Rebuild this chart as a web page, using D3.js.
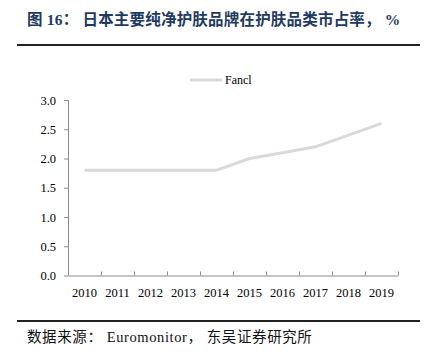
<!DOCTYPE html>
<html><head><meta charset="utf-8">
<script src="https://cdn.jsdelivr.net/npm/d3@7"></script>
<style>body{margin:0;background:#fff;}svg{display:block;}</style>
</head><body>
<svg id="c" width="429" height="356"></svg>
<script>
const years = ["2010","2011","2012","2013","2014","2015","2016","2017","2018","2019"];
const fancl = [1.8,1.8,1.8,1.8,1.8,2.0,2.1,2.2,2.4,2.6];
const yTicks = [0,0.5,1.0,1.5,2.0,2.5,3.0];
const seriesName = "Fancl";
const titleText = "图 16： 日本主要纯净护肤品牌在护肤品类市占率， %";
const sourceText = "数据来源： Euromonitor， 东吴证券研究所";

const svg = d3.select("#c");
const serif = "'Liberation Serif','Times New Roman','Noto Sans CJK SC',serif";

svg.append("text").attr("x",27).attr("y",25)
  .attr("font-family", serif).attr("font-weight","bold").attr("font-size",15.5)
  .attr("letter-spacing",0.2)
  .attr("fill","#1f3a60").text(titleText);
svg.append("line").attr("x1",17).attr("x2",420).attr("y1",45).attr("y2",45)
  .attr("stroke","#222").attr("stroke-width",2);
svg.append("line").attr("x1",17).attr("x2",420).attr("y1",321).attr("y2",321)
  .attr("stroke","#222").attr("stroke-width",2);
svg.append("text").attr("x",27).attr("y",342)
  .attr("font-family", serif).attr("font-size",14.5).attr("letter-spacing",0.6)
  .attr("fill","#111").text(sourceText);

const x = d3.scaleBand().domain(years).range([68,398]);
const y = d3.scaleLinear().domain([0,3]).range([275.5,100]);

const axisColor = "#8c8c8c";
const gy = svg.append("g").attr("transform","translate(68,0)")
  .call(d3.axisLeft(y).tickValues(yTicks).tickFormat(d3.format(".1f")).tickSize(4).tickPadding(8));
const gx = svg.append("g").attr("transform","translate(0,275.5)")
  .call(d3.axisBottom(x).tickSize(0).tickPadding(13));
[gy,gx].forEach(g=>{
  g.selectAll("path").attr("stroke",axisColor);
  g.selectAll("line").attr("stroke",axisColor);
  g.selectAll("text").attr("font-family",serif).attr("font-size",12.5).attr("fill","#000");
});
gy.select(".domain").remove();
svg.append("line").attr("x1",68.5).attr("x2",68.5).attr("y1",y(3)).attr("y2",y(0)).attr("stroke",axisColor);
// x tick marks at band edges (pointing up)
svg.append("g").selectAll("line").data(years.concat(["end"])).join("line")
  .attr("x1",(d,i)=>68+i*x.bandwidth()+0.5).attr("x2",(d,i)=>68+i*x.bandwidth()+0.5)
  .attr("y1",275.5).attr("y2",271.5).attr("stroke",axisColor);

const line = d3.line().x((d,i)=>x(years[i])+x.bandwidth()/2).y(d=>y(d));
svg.append("path").datum(fancl).attr("d",line)
  .attr("fill","none").attr("stroke","#d9d9d9").attr("stroke-width",3);

// legend
svg.append("line").attr("x1",190).attr("x2",222).attr("y1",80).attr("y2",80)
  .attr("stroke","#d9d9d9").attr("stroke-width",3);
svg.append("text").attr("x",225).attr("y",84).attr("font-family",serif)
  .attr("font-size",12).attr("fill","#000").text(seriesName);
</script>
</body></html>
